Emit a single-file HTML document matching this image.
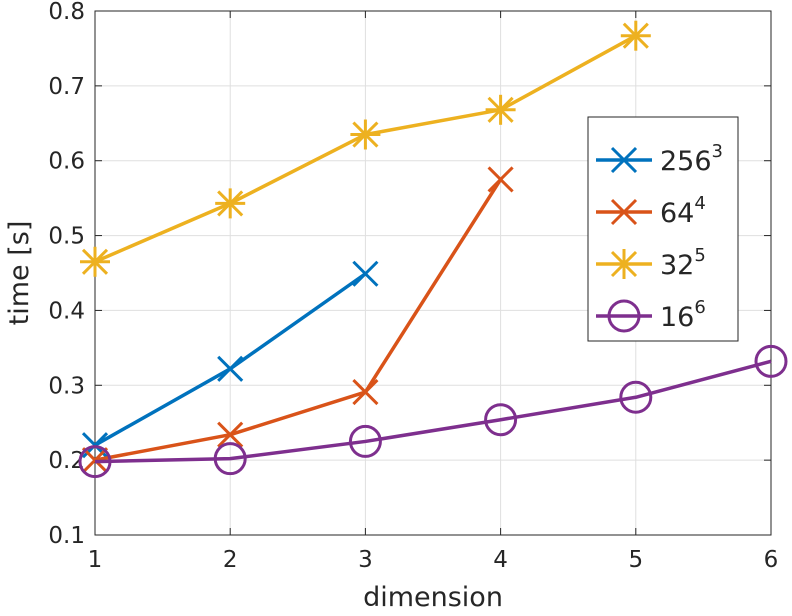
<!DOCTYPE html>
<html><head><meta charset="utf-8"><style>
body{margin:0;background:#fff;}
svg{font-family:"DejaVu Sans","Liberation Sans",sans-serif;}
</style></head><body>
<svg id="chart" width="792" height="611" xmlns="http://www.w3.org/2000/svg"></svg>
<script>
const xTicks=[1,2,3,4,5,6];
const yTicks=[0.1,0.2,0.3,0.4,0.5,0.6,0.7,0.8];
const yTickLabels=["0.1","0.2","0.3","0.4","0.5","0.6","0.7","0.8"];
const x256=[1,2,3];
const y256=[0.220,0.322,0.449];
const x64=[1,2,3,4];
const y64=[0.200,0.234,0.291,0.575];
const x32=[1,2,3,4,5];
const y32=[0.465,0.543,0.635,0.668,0.767];
const x16=[1,2,3,4,5,6];
const y16=[0.198,0.202,0.225,0.254,0.284,0.332];
const legendLabels=["256","64","32","16"];
const legendExps=["3","4","5","6"];

const NS="http://www.w3.org/2000/svg";
const svg=document.getElementById('chart');
const L=95,R=771,T=11,B=535;
const sx=v=>L+(v-1)/(6-1)*(R-L);
const sy=v=>B-(v-0.1)/(0.8-0.1)*(B-T);
function mk(tag,attrs,parent){const e=document.createElementNS(NS,tag);for(const k in attrs)e.setAttribute(k,attrs[k]);(parent||svg).appendChild(e);return e;}

// grid
const grid=mk('g',{});


xTicks.forEach(t=>mk('line',{x1:sx(t),x2:sx(t),y1:T,y2:B,stroke:'#dfdfdf','stroke-width':1},grid));
yTicks.forEach(t=>mk('line',{x1:L,x2:R,y1:sy(t),y2:sy(t),stroke:'#dfdfdf','stroke-width':1},grid));
// axes box
const box=mk('rect',{x:L,y:T,width:R-L,height:B-T,fill:'none',stroke:'#262626','stroke-width':1});


// ticks and labels
xTicks.forEach(t=>{
  mk('line',{x1:sx(t),x2:sx(t),y1:B,y2:B-7,stroke:'#262626'});
  mk('line',{x1:sx(t),x2:sx(t),y1:T,y2:T+7,stroke:'#262626'});
  const tx=mk('text',{x:sx(t),y:B+32,'text-anchor':'middle','font-size':23,fill:'#262626'});
  tx.textContent=t;
  
  
});
yTicks.forEach((t,i)=>{
  mk('line',{x1:L,x2:L+7,y1:sy(t),y2:sy(t),stroke:'#262626'});
  mk('line',{x1:R,x2:R-7,y1:sy(t),y2:sy(t),stroke:'#262626'});
  const tx=mk('text',{x:L-10,y:sy(t)+8,'text-anchor':'end','font-size':23,fill:'#262626'});
  tx.textContent=yTickLabels[i];
  
  
});
const xt=mk('text',{x:(L+R)/2,y:606,'text-anchor':'middle','font-size':27,fill:'#262626'});
xt.textContent='dimension';


const yt=mk('text',{x:0,y:0,transform:`translate(28,${(T+B)/2}) rotate(-90)`,'text-anchor':'middle','font-size':27,fill:'#262626'});
yt.textContent='time [s]';



function marker(type,cx,cy,col,g){
  const s=12;
  if(type==='x'||type==='star'){
    mk('line',{x1:cx-s,y1:cy-s,x2:cx+s,y2:cy+s,stroke:col,'stroke-width':3},g);
    mk('line',{x1:cx-s,y1:cy+s,x2:cx+s,y2:cy-s,stroke:col,'stroke-width':3},g);
  }
  if(type==='star'){
    mk('line',{x1:cx-s-3,y1:cy,x2:cx+s+3,y2:cy,stroke:col,'stroke-width':3},g);
    mk('line',{x1:cx,y1:cy-s-3,x2:cx,y2:cy+s+3,stroke:col,'stroke-width':3},g);
  }
  if(type==='o'){
    mk('circle',{cx:cx,cy:cy,r:15,fill:'none',stroke:col,'stroke-width':3},g);
  }
}
const series=[
  {xs:x256,ys:y256,col:'#0072bd',m:'x',name:'series-256-cubed'},
  {xs:x64,ys:y64,col:'#d95319',m:'x',name:'series-64-pow4'},
  {xs:x32,ys:y32,col:'#edb120',m:'star',name:'series-32-pow5'},
  {xs:x16,ys:y16,col:'#7e2f8e',m:'o',name:'series-16-pow6'}
];
series.forEach(s=>{
  const g=mk('g',{});
  
  
  mk('polyline',{points:s.xs.map((x,i)=>sx(x)+','+sy(s.ys[i])).join(' '),fill:'none',stroke:s.col,'stroke-width':3.5,'stroke-linejoin':'round'},g);
  s.xs.forEach((x,i)=>marker(s.m,sx(x),sy(s.ys[i]),s.col,g));
});
// legend
const lg=mk('g',{});


mk('rect',{x:588,y:117,width:150,height:224,fill:'#fff',stroke:'#262626','stroke-width':1},lg);
series.forEach((s,i)=>{
  const cy=160+i*52;
  const e=mk('g',{},lg);
  
  
  mk('line',{x1:596,x2:652,y1:cy,y2:cy,stroke:s.col,'stroke-width':3.5},e);
  marker(s.m,624,cy,s.col,e);
  const t=mk('text',{x:660,y:cy+10,'font-size':27,fill:'#262626'},e);
  t.textContent=legendLabels[i];
  const sp=mk('tspan',{dy:-13,'font-size':18},t);
  sp.textContent=legendExps[i];
});
</script>
</body></html>
